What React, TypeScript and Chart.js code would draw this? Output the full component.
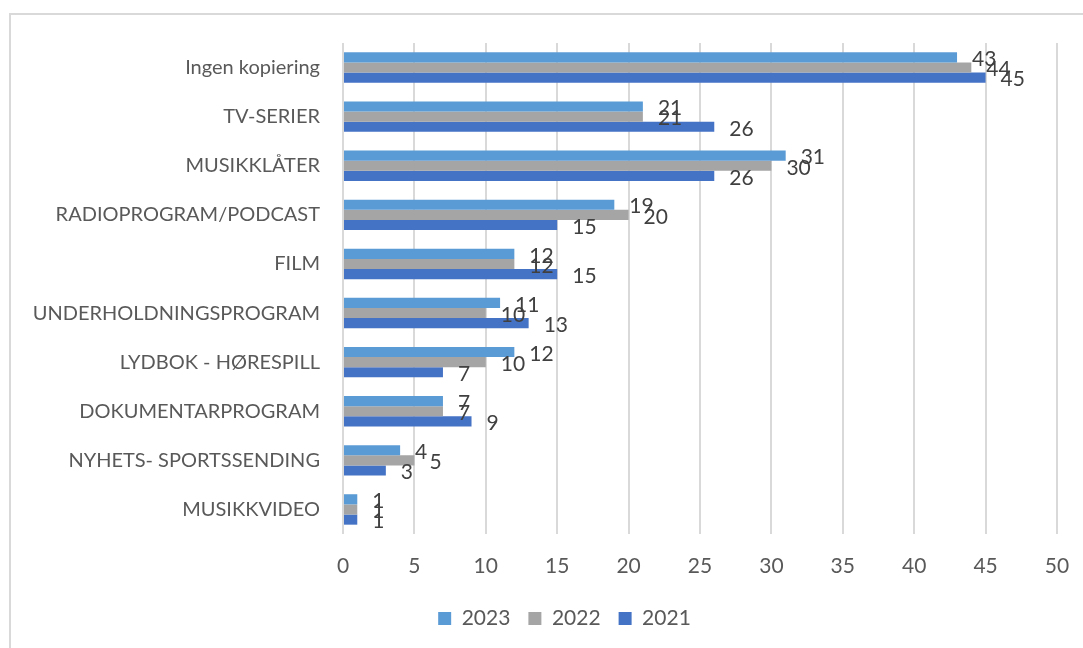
import React, { useEffect, useRef } from "react";
import { Chart, registerables } from "chart.js";

Chart.register(...registerables);

const categories = [
  "Ingen kopiering",
  "TV-SERIER",
  "MUSIKKLÅTER",
  "RADIOPROGRAM/PODCAST",
  "FILM",
  "UNDERHOLDNINGSPROGRAM",
  "LYDBOK - HØRESPILL",
  "DOKUMENTARPROGRAM",
  "NYHETS- SPORTSSENDING",
  "MUSIKKVIDEO",
];
const values2023 = [43, 21, 31, 19, 12, 11, 12, 7, 4, 1];
const values2022 = [44, 21, 30, 20, 12, 10, 10, 7, 5, 1];
const values2021 = [45, 26, 26, 15, 15, 13, 7, 9, 3, 1];
const seriesNames = ["2023", "2022", "2021"];
const seriesColors = ["#5B9BD5", "#A5A5A5", "#4472C4"];

const FONT = "Lato";

const dataLabels = {
  id: "dataLabels",
  afterDatasetsDraw(chart: any) {
    const ctx = chart.ctx;
    ctx.save();
    ctx.font = `21px ${FONT}`;
    ctx.fillStyle = "#404040";
    ctx.textAlign = "left";
    ctx.textBaseline = "middle";
    chart.data.datasets.forEach((ds: any, di: number) => {
      const meta = chart.getDatasetMeta(di);
      meta.data.forEach((el: any, i: number) => {
        ctx.fillText(String(ds.data[i]), el.x + 15, el.y + 2);
      });
    });
    ctx.restore();
  },
};

const legendShift = {
  id: "legendShift",
  afterLayout(chart: any) {
    const lg = chart.legend;
    if (lg) {
      lg.left += 36;
      lg.right += 36;
    }
  },
};

export default function App() {
  const ref = useRef<HTMLCanvasElement | null>(null);
  useEffect(() => {
    const series = [values2023, values2022, values2021];
    const chart = new Chart(ref.current as HTMLCanvasElement, {
      type: "bar",
      data: {
        labels: categories,
        datasets: series.map((d, i) => ({
          label: seriesNames[i],
          data: d,
          backgroundColor: seriesColors[i],
          borderWidth: 0,
          categoryPercentage: 0.62,
          barPercentage: 1,
        })),
      },
      options: {
        indexAxis: "y",
        responsive: false,
        animation: false,
        layout: { padding: { top: 43, right: 26, left: 0, bottom: 9 } },
        scales: {
          y: {
            grid: { display: false, drawTicks: false },
            border: { display: false },
            ticks: {
              color: "#595959",
              font: { family: FONT, size: 20 },
              padding: 23,
            },
            afterFit: (s: any) => {
              s.width = 343;
            },
          },
          x: {
            min: 0,
            max: 50,
            grid: { color: "#D9D9D9", lineWidth: 2, drawTicks: false },
            border: { display: false },
            ticks: {
              stepSize: 5,
              color: "#595959",
              font: { family: FONT, size: 21 },
              padding: 20,
            },
            afterFit: (s: any) => {
              s.height = 56;
              s.paddingLeft = 0;
              s.paddingRight = 0;
            },
          },
        },
        plugins: {
          legend: {
            position: "bottom",
            labels: {
              boxWidth: 13,
              boxHeight: 13,
              color: "#595959",
              font: { family: FONT, size: 21 },
              padding: 18,
            },
          },
          tooltip: { enabled: false },
        },
      },
      plugins: [dataLabels, legendShift],
    });
    return () => chart.destroy();
  }, []);

  return (
    <div
      style={{
        position: "fixed",
        left: 0,
        top: 0,
        width: 1083,
        height: 648,
        background: "#fff",
        overflow: "hidden",
      }}
    >
      <div
        style={{
          position: "absolute",
          left: 9,
          top: 13,
          width: 2000,
          height: 2000,
          borderLeft: "2px solid #D9D9D9",
          borderTop: "2px solid #D9D9D9",
        }}
      />
      <canvas
        ref={ref}
        width={1083}
        height={648}
        style={{ position: "absolute", left: 0, top: 0 }}
      />
    </div>
  );
}
